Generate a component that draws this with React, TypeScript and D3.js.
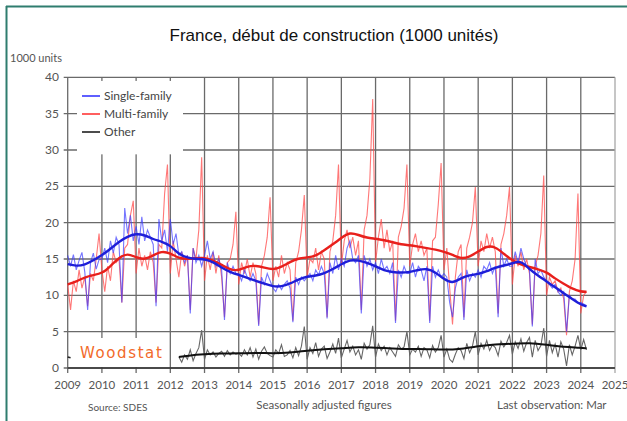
import React from "react";
import * as d3 from "d3";

// monthly, Jan 2009 .. Mar 2024 (1000 units, seasonally adjusted)
const singleFamily = [
  15.5, 14.0, 15.6, 13.5, 14.8, 15.9, 13.2, 8.0, 14.5, 15.8, 13.6, 14.9,
  15.0, 16.5, 14.5, 17.5, 15.8, 18.0, 17.0, 9.0, 22.0, 18.5, 21.0, 17.5,
  19.5, 17.0, 20.8, 17.5, 19.0, 18.0, 17.0, 8.5, 20.5, 17.5, 19.0, 16.0,
  20.5, 17.0, 18.5, 15.5, 16.0, 14.5, 15.5, 7.5, 16.5, 14.5, 15.5, 14.0,
  15.5, 17.5, 15.0, 16.0, 14.0, 15.0, 13.5, 6.6, 14.5, 13.0, 14.0, 13.0,
  13.0, 12.0, 13.5, 12.5, 12.0, 13.0, 12.0, 5.8, 12.5, 11.5, 13.0, 12.0,
  11.0, 10.5, 11.5, 10.8, 11.5, 12.0, 11.0, 6.3, 12.5, 11.5, 12.5, 12.0,
  12.5, 13.0, 12.0, 13.5, 12.8, 14.0, 13.0, 6.8, 14.5, 13.0, 15.5, 13.5,
  15.0, 14.0, 16.5, 17.5, 15.0, 14.5, 15.5, 7.5, 15.5, 14.0, 15.0, 13.5,
  14.5, 13.0, 15.0, 13.5, 14.0, 13.0, 14.5, 6.2, 13.5, 12.5, 14.0, 13.0,
  13.0, 14.5, 12.5, 14.0, 13.5, 12.0, 14.0, 6.2, 14.0, 12.5, 13.5, 12.5,
  13.0, 12.5, 9.0, 7.0, 11.0, 12.5, 13.0, 6.6, 13.5, 12.0, 13.0, 12.5,
  13.5, 12.5, 14.0, 13.5, 14.5, 13.0, 14.0, 7.0, 16.5, 14.0, 15.0, 14.0,
  14.0, 16.0, 14.5, 16.5, 15.0, 14.0, 13.5, 5.7, 15.0, 13.0, 13.5, 12.5,
  12.0, 11.5, 11.0, 11.5, 10.5, 10.0, 10.5, 5.0, 10.0, 9.5, 9.5, 9.0,
  9.0, 8.8, 8.5,
];

const multiFamily = [
  11.5, 8.0, 12.0, 10.5, 13.5, 11.0, 12.5, 8.5, 13.0, 12.0, 15.0, 18.5,
  13.5, 10.5, 14.0, 12.0, 16.0, 14.5, 15.0, 9.0, 16.5, 17.0, 21.0, 23.0,
  13.0, 16.5, 14.0, 15.5, 13.5, 16.0, 14.5, 9.0, 17.0, 16.5, 24.0, 28.0,
  13.0, 17.5, 15.0, 12.5, 16.0, 14.0, 15.5, 8.0, 16.5, 15.0, 19.0, 29.0,
  12.0, 15.5, 13.5, 16.0, 13.0, 15.5, 12.5, 7.0, 14.5, 15.0, 17.0, 21.5,
  11.5, 14.5, 13.0, 15.0, 12.5, 14.5, 13.0, 6.0, 14.0, 15.5, 18.0, 23.5,
  12.0, 14.0, 12.5, 15.5, 13.0, 14.5, 13.5, 6.5, 14.5, 16.0, 19.0, 23.8,
  12.5, 15.0, 14.5, 16.5, 13.5, 16.0, 15.0, 7.0, 16.0, 17.5, 21.0, 28.0,
  14.0, 17.5, 19.0, 16.5, 18.0, 15.5, 17.5, 8.0, 19.0, 21.0, 26.0, 37.0,
  14.5, 18.0, 20.5, 16.5, 19.0, 16.0, 17.5, 6.5, 18.0, 19.5, 22.0, 28.0,
  14.0, 17.0, 18.5, 16.0, 17.5, 15.5, 16.5, 6.5, 17.5, 18.0, 22.5, 28.2,
  13.5, 16.5, 11.0, 6.0, 12.5, 16.0, 17.0, 7.0, 16.5, 18.0, 20.0, 24.9,
  14.0, 17.5, 16.0, 18.5, 16.5, 18.0, 16.0, 7.5, 17.0, 18.5, 21.0, 24.9,
  11.5, 15.5, 14.0, 16.0, 13.5, 15.0, 13.0, 6.0, 14.0, 15.5, 18.5, 26.5,
  10.0, 12.5, 11.5, 12.0, 10.5, 11.0, 9.5, 4.5, 10.5, 12.0, 15.0, 24.0,
  7.5, 10.0, 10.5,
];

// "Other": two stray months in early 2009, then Apr 2012 .. Mar 2024
const otherEarly = [1.5, 1.4];
const otherStartYear = 2012;
const otherStartMonth = 3;
const other = [
  1.5, 0.8, 1.8, 1.2, 2.5, 1.0, 2.0, 2.8, 5.2,
  1.2, 2.5, 1.8, 2.2, 1.5, 2.0, 2.3, 1.6, 2.4, 1.8, 2.2, 1.9,
  2.0, 1.6, 2.5, 1.8, 2.8, 1.5, 2.6, 1.2, 2.3, 2.9, 2.0, 1.7,
  1.5, 2.5, 2.0, 3.2, 1.6, 1.8, 2.4, 1.4, 2.8, 1.7, 3.0, 5.7,
  1.2, 2.8, 2.0, 3.5, 1.6, 2.6, 3.0, 1.3, 2.2, 3.3, 2.0, 4.1,
  1.4, 2.6, 3.8, 2.2, 3.0, 1.8, 2.5, 1.2, 3.4, 2.6, 3.2, 5.8,
  1.5, 3.3, 2.4, 3.0, 1.8, 2.8, 2.2, 1.6, 3.2, 2.6, 2.9, 5.0,
  1.8, 2.6, 2.2, 3.0, 1.6, 2.8, 2.5, 1.4, 3.1, 2.2, 2.8, 4.5,
  1.5, 2.6, 1.2, 0.8, 1.9, 2.8, 2.4, 1.3, 3.4, 2.1, 3.0, 5.0,
  1.8, 3.4, 2.6, 3.8, 2.4, 3.2, 2.8, 1.7, 3.7, 2.9, 3.5, 4.5,
  1.9, 3.6, 2.7, 4.0, 2.3, 3.5, 4.2, 1.5, 3.8, 2.4, 3.1, 5.5,
  1.6, 3.8, 2.1, 3.3, 1.5, 3.6, 2.6, 0.3, 3.2, 1.8, 3.0, 4.5,
  2.5, 3.9, 2.5,
];

// trends, quarterly from 2009 Q1, last value = Mar 2024
const singleTrend = [
  14.3, 14.0, 14.2, 14.8, 15.5, 16.4, 17.4, 18.1, 18.5, 18.3, 17.7, 17.4,
  16.9, 15.6, 15.2, 15.0, 15.0, 14.6, 13.8, 13.2, 12.8, 12.4, 12.0, 11.6,
  11.2, 11.2, 11.6, 12.2, 12.6, 12.7, 13.0, 13.6, 14.3, 14.9, 14.8, 14.5,
  14.0, 13.4, 13.2, 13.1, 13.2, 13.5, 13.7, 13.2, 12.2, 11.6, 12.4, 12.8,
  12.9, 13.3, 13.8, 14.1, 14.4, 14.8, 13.6, 12.7, 11.9, 11.1, 10.3, 9.5,
  8.7, 8.5,
];
const multiTrend = [
  11.5, 11.9, 12.5, 12.8, 13.0, 14.0, 15.2, 15.8, 15.2, 14.9, 15.5, 16.1,
  15.8, 15.1, 15.0, 15.1, 15.2, 14.8, 14.2, 13.5, 13.4, 14.0, 14.1, 13.8,
  13.5, 13.9, 14.6, 15.1, 15.2, 15.4, 16.2, 17.0, 17.9, 18.7, 18.3, 17.9,
  17.8, 17.6, 17.3, 17.0, 16.9, 16.7, 16.5, 16.3, 16.0, 15.6, 15.0, 15.3,
  16.0, 16.8, 16.7, 15.7, 14.8, 14.2, 13.9, 13.6, 13.2, 12.3, 11.6, 10.9,
  10.5, 10.5,
];
const otherTrendYears = [
  2012.25, 2012.5, 2013, 2013.5, 2014, 2014.5, 2015, 2015.5, 2016, 2016.5,
  2017, 2017.5, 2018, 2018.5, 2019, 2019.5, 2020, 2020.5, 2021, 2021.5,
  2022, 2022.5, 2023, 2023.5, 2024, 2024.17,
];
const otherTrend = [
  1.5, 1.7, 1.9, 2.0, 2.0, 2.1, 2.0, 2.1, 2.4, 2.6,
  2.7, 2.9, 2.8, 2.7, 2.6, 2.6, 2.5, 2.6, 3.0, 3.3,
  3.3, 3.5, 3.2, 2.9, 2.8, 2.7,
];

const years = d3.range(2009, 2026);
const yTicks = [0, 5, 10, 15, 20, 25, 30, 35, 40];
const legendItems = [
  { label: "Single-family", color: "#2a2aff" },
  { label: "Multi-family", color: "#ff2a2a" },
  { label: "Other", color: "#111111" },
];

const W = 627;
const H = 421;
const left = 67.7;
const right = 615;
const top = 77.3;
const bottom = 368;
const lastObs = 2024 + 2 / 12;
const labelFont = "Lato, 'Open Sans', sans-serif";

export default function App() {
  const x = d3.scaleLinear().domain([2009, 2025]).range([left, right]);
  const y = d3.scaleLinear().domain([0, 40]).range([bottom, top]);

  const monthly = (vals: number[], y0: number, m0: number) =>
    vals.map((v, i) => [y0 + (m0 + i) / 12, v] as [number, number]);
  const quarterly = (vals: number[]) =>
    vals.map(
      (v, i) => [i === vals.length - 1 ? lastObs : 2009 + i * 0.25, v] as [number, number]
    );

  const thin = d3
    .line<[number, number]>()
    .x((d) => x(d[0]))
    .y((d) => y(d[1]));
  const smooth = d3
    .line<[number, number]>()
    .x((d) => x(d[0]))
    .y((d) => y(d[1]))
    .curve(d3.curveBasis);

  const otherTrendPts = otherTrend.map((v, i) => [otherTrendYears[i], v] as [number, number]);

  return (
    <svg
      width={W}
      height={H}
      style={{ position: "absolute", left: 0, top: 0, background: "#fff" }}
    >
      {/* frame */}
      <line x1={6.5} x2={6.5} y1={6} y2={H} stroke="#2f7d6f" strokeWidth={2} />
      <line x1={6} x2={W} y1={6.5} y2={6.5} stroke="#2f7d6f" strokeWidth={2} />

      <text
        x={334}
        y={41}
        textAnchor="middle"
        fontFamily="'Liberation Sans', Arial, sans-serif"
        fontSize={17}
        fill="#111"
      >
        France, début de construction (1000 unités)
      </text>
      <text x={10} y={62} fontFamily={labelFont} fontSize={11} fill="#555">
        1000 units
      </text>

      {/* grid */}
      {yTicks.map((t) => (
        <line
          key={"h" + t}
          x1={left - 4}
          x2={right}
          y1={y(t)}
          y2={y(t)}
          stroke="#6a6a6a"
          strokeWidth={1.3}
        />
      ))}
      {years.map((yr) => (
        <line
          key={"v" + yr}
          x1={x(yr)}
          x2={x(yr)}
          y1={top}
          y2={bottom + 5}
          stroke={yr === 2025 ? "#a8a8a8" : "#6a6a6a"}
          strokeWidth={1.3}
        />
      ))}
      <line x1={left} x2={right} y1={bottom} y2={bottom} stroke="#333" strokeWidth={1.6} />

      {/* legend & logo boxes */}
      <rect x={77} y={y(39.5)} width={106} height={y(29.4) - y(39.5)} fill="#fff" />
      <rect x={69.5} y={338} width={98} height={bottom - 339} fill="#fff" />

      {yTicks.map((t) => (
        <text
          key={"yl" + t}
          x={59}
          y={y(t) + 4}
          textAnchor="end"
          fontFamily={labelFont}
          fontSize={12}
          fill="#555"
        >
          {t}
        </text>
      ))}
      {years.map((yr) => (
        <text
          key={"xl" + yr}
          x={x(yr)}
          y={389}
          textAnchor="middle"
          fontFamily={labelFont}
          fontSize={11.5}
          fill="#555"
        >
          {yr}
        </text>
      ))}

      {/* series */}
      <path
        d={thin(monthly(multiFamily, 2009, 0)) || ""}
        fill="none"
        stroke="#ff4a4a"
        strokeOpacity={0.75}
        strokeWidth={1.1}
      />
      <path
        d={thin(monthly(singleFamily, 2009, 0)) || ""}
        fill="none"
        stroke="#3a3aff"
        strokeOpacity={0.7}
        strokeWidth={1.1}
      />
      <path
        d={thin(monthly(otherEarly, 2009, 0)) || ""}
        fill="none"
        stroke="#222"
        strokeWidth={1.5}
      />
      <path
        d={thin(monthly(other, otherStartYear, otherStartMonth)) || ""}
        fill="none"
        stroke="#666"
        strokeWidth={1.1}
      />
      <path d={smooth(quarterly(multiTrend)) || ""} fill="none" stroke="#e8201c" strokeWidth={2.4} />
      <path d={smooth(quarterly(singleTrend)) || ""} fill="none" stroke="#1e1ed8" strokeWidth={2.4} />
      <path d={smooth(otherTrendPts) || ""} fill="none" stroke="#111" strokeWidth={2} />

      {/* legend */}
      {legendItems.map((it, i) => (
        <g key={it.label} transform={`translate(82,${96 + i * 18})`}>
          <line x1={0} x2={18} y1={0} y2={0} stroke={it.color} strokeWidth={1.5} />
          <text x={22} y={4} fontFamily={labelFont} fontSize={12} fill="#444">
            {it.label}
          </text>
        </g>
      ))}

      <text
        x={80}
        y={358}
        fontFamily="'DejaVu Sans', sans-serif"
        fontSize={15}
        letterSpacing={1.6}
        fill="#f26a2a"
      >
        Woodstat
      </text>

      <text x={88} y={411} fontFamily={labelFont} fontSize={10} fill="#555">
        Source: SDES
      </text>
      <text x={324} y={409} textAnchor="middle" fontFamily={labelFont} fontSize={11.5} fill="#555">
        Seasonally adjusted figures
      </text>
      <text x={497} y={409} fontFamily={labelFont} fontSize={11.5} fill="#555">
        Last observation: Mar
      </text>
    </svg>
  );
}
